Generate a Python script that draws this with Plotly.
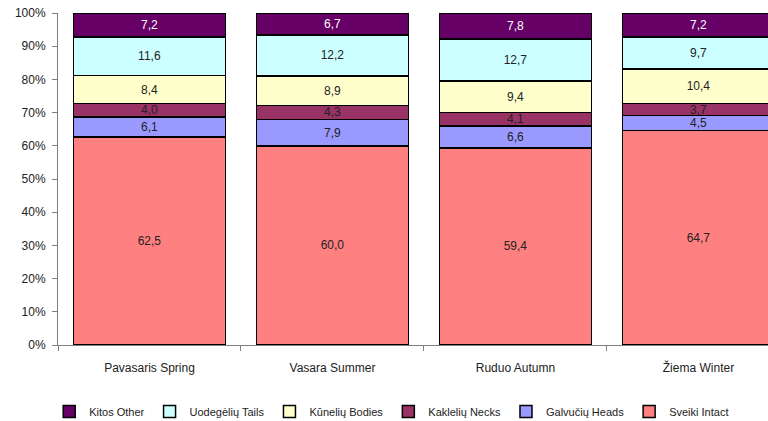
import plotly.graph_objects as go

categories = ["Pavasaris Spring", "Vasara Summer", "Ruduo Autumn", "Žiema Winter"]
series_names = ["Sveiki Intact", "Galvučių Heads", "Kaklelių Necks", "Kūnelių Bodies", "Uodegėlių Tails", "Kitos Other"]
sveiki = [62.5, 60.0, 59.4, 64.7]
galvuciu = [6.1, 7.9, 6.6, 4.5]
kakleliu = [4.0, 4.3, 4.1, 3.7]
kuneliu = [8.4, 8.9, 9.4, 10.4]
uodegeliu = [11.6, 12.2, 12.7, 9.7]
kitos = [7.2, 6.7, 7.8, 7.2]
y_ticks = [0, 10, 20, 30, 40, 50, 60, 70, 80, 90, 100]
y_tick_labels = [f"{v}%" for v in y_ticks]

series_values = [sveiki, galvuciu, kakleliu, kuneliu, uodegeliu, kitos]
colors = ["#FF8080", "#9999FF", "#993366", "#FFFFCC", "#CCFFFF", "#660066"]
text_colors = ["#222222", "#222222", "#222222", "#222222", "#222222", "#FFFFFF"]

fig = go.Figure()
for name, vals, col, tcol in zip(series_names, series_values, colors, text_colors):
    fig.add_trace(go.Bar(
        x=categories, y=vals, name=name,
        marker=dict(color=col, line=dict(color="#000000", width=1.5)),
        text=[f"{v:.1f}".replace(".", ",") for v in vals],
        textposition="inside", insidetextanchor="middle",
        constraintext="none",
        textfont=dict(family="Liberation Sans, Arial, sans-serif", size=12, color=tcol),
        hoverinfo="skip",
    ))

fig.update_layout(
    barmode="stack", barnorm="percent", bargap=0.17,
    width=768, height=421,
    margin=dict(l=58, r=0, t=13, b=76, autoexpand=False),
    paper_bgcolor="white", plot_bgcolor="white",
    font=dict(family="Liberation Sans, Arial, sans-serif", size=12, color="#222222"),
    showlegend=True,
    legend=dict(orientation="h", x=0.47, xanchor="center", y=-0.2, yanchor="middle",
                traceorder="reversed", font=dict(size=11, color="#222222"),
                itemwidth=30, bgcolor="rgba(0,0,0,0)"),
    xaxis=dict(range=[-0.5, 3.38], showline=True, linecolor="#808080", linewidth=1,
               ticks="outside", tickson="boundaries", ticklen=5, tickcolor="#808080",
               showgrid=False, ticklabelstandoff=12,
               tickfont=dict(size=12, color="#222222")),
    yaxis=dict(range=[0, 100], tickmode="array", tickvals=y_ticks, ticktext=y_tick_labels,
               showline=True, linecolor="#808080", linewidth=1, ticks="outside", ticklen=5,
               tickcolor="#808080", showgrid=False, zeroline=False, ticklabelstandoff=4,
               tickfont=dict(size=12, color="#222222")),
)

fig.write_html("out.html", config={"displayModeBar": False},
               post_script="document.body.style.margin='0px';document.body.style.overflow='hidden';")
